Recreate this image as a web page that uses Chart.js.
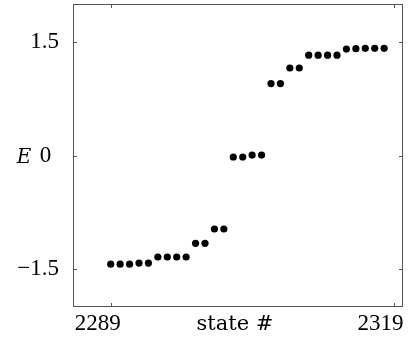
<!DOCTYPE html>
<html>
<head>
<meta charset="utf-8">
<script src="https://cdn.jsdelivr.net/npm/chart.js@4"></script>
<style>
html, body { margin: 0; padding: 0; background: #fff; }
#wrap { width: 412px; height: 343px; }
</style>
</head>
<body>
<div id="wrap"><canvas id="energyChart"></canvas></div>
<script>
// Data
const states = [2289, 2290, 2291, 2292, 2293, 2294, 2295, 2296, 2297, 2298,
                2299, 2300, 2301, 2302, 2303, 2304, 2305, 2306, 2307, 2308,
                2309, 2310, 2311, 2312, 2313, 2314, 2315, 2316, 2317, 2318];
const energies = [-1.434, -1.434, -1.434, -1.42, -1.42, -1.34, -1.34, -1.34, -1.34, -1.16,
                  -1.16, -0.97, -0.97, -0.02, -0.02, 0.005, 0.005, 0.95, 0.95, 1.155,
                  1.155, 1.325, 1.325, 1.325, 1.325, 1.405, 1.41, 1.415, 1.415, 1.415];
const xTicks = [2289, 2319];
const yTicks = [-1.5, 0, 1.5];

const serif = '"Liberation Serif", "DejaVu Serif", serif';
const wideSerif = '"DejaVu Serif", serif';

// Frame with inward ticks on all four sides, plus the E and state # labels
const framePlugin = {
    id: 'frame',
    afterDraw(chart) {
        const { ctx, chartArea: a, scales } = chart;
        ctx.save();
        ctx.strokeStyle = '#555';
        ctx.lineWidth = 1;
        ctx.strokeRect(a.left + 0.5, a.top + 0.5, a.right - a.left - 1, a.bottom - a.top - 1);
        ctx.beginPath();
        xTicks.forEach(v => {
            const x = Math.round(scales.x.getPixelForValue(v)) + 0.5;
            ctx.moveTo(x, a.bottom); ctx.lineTo(x, a.bottom - 4);
            ctx.moveTo(x, a.top); ctx.lineTo(x, a.top + 4);
        });
        yTicks.forEach(v => {
            const y = Math.round(scales.y.getPixelForValue(v)) + 0.5;
            ctx.moveTo(a.left, y); ctx.lineTo(a.left + 4, y);
            ctx.moveTo(a.right, y); ctx.lineTo(a.right - 4, y);
        });
        ctx.stroke();

        ctx.fillStyle = '#000';
        ctx.textAlign = 'center';
        ctx.textBaseline = 'alphabetic';
        ctx.font = 'italic 20px ' + wideSerif;
        ctx.fillText('E', 24, scales.y.getPixelForValue(0) + 7);
        ctx.font = '21px ' + wideSerif;
        ctx.fillText('state #', 235, 330);
        ctx.restore();
    }
};

const ctx = document.getElementById('energyChart').getContext('2d');
const energyChart = new Chart(ctx, {
    type: 'scatter',
    data: {
        datasets: [{
            data: states.map((s, i) => ({ x: s, y: energies[i] })),
            backgroundColor: '#000',
            borderWidth: 0,
            pointRadius: 3.6,
        }]
    },
    options: {
        responsive: true,
        maintainAspectRatio: false,
        animation: false,
        layout: {
            padding: { left: 0, right: 9, top: 4, bottom: 0 }
        },
        plugins: {
            legend: { display: false },
            tooltip: { enabled: false }
        },
        scales: {
            x: {
                type: 'linear',
                min: 2285,
                max: 2320,
                afterBuildTicks: scale => { scale.ticks = xTicks.map(v => ({ value: v })); },
                afterFit: scale => {
                    scale.height = 36;
                    scale.paddingLeft = 0;
                    scale.paddingRight = 0;
                },
                grid: { display: false, drawTicks: false },
                border: { display: false },
                ticks: {
                    color: '#000',
                    font: { family: serif, size: 23 },
                    padding: 3,
                    labelOffset: -13,
                    maxRotation: 0,
                    callback: v => String(v)
                }
            },
            y: {
                min: -2,
                max: 2,
                afterBuildTicks: scale => { scale.ticks = yTicks.map(v => ({ value: v })); },
                afterFit: scale => {
                    scale.width = 73;
                    scale.paddingTop = 0;
                    scale.paddingBottom = 0;
                },
                grid: { display: false, drawTicks: false },
                border: { display: false },
                ticks: {
                    color: '#000',
                    font: { family: serif, size: 23 },
                    padding: 14,
                    callback: v => v === 0 ? '0 \u200A' : (v < 0 ? '\u2212' + Math.abs(v) : String(v))
                }
            }
        }
    },
    plugins: [framePlugin]
});
</script>
</body>
</html>
